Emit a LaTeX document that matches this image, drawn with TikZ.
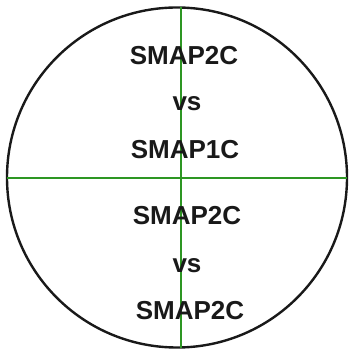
\documentclass[tikz,border=0pt]{standalone}
\usepackage{fontspec}
\setmainfont{Liberation Sans}
\definecolor{lgreen}{RGB}{45,150,35}
\begin{document}
\begin{tikzpicture}[x=1pt,y=1pt,
  lbl/.style={font=\fontsize{26}{29}\selectfont\bfseries, text=black!90, inner sep=0pt},
  gline/.style={draw=lgreen, line width=1.7pt},
  ring/.style={draw=black!90, line width=2.4pt}]
\useasboundingbox (0,0) rectangle (351,356);
\node[ring, circle, minimum size=340pt, inner sep=0pt] (c) at (177,178.5) {};
\coordinate (t) at (181,348.5);
\coordinate (b) at (181,8);
\coordinate (l) at (7,178);
\coordinate (r) at (347,178);
\draw[gline] (t) -- (b);
\draw[gline] (l) -- (r);
\node[lbl] (a1) at (184,300) {SMAP2C};
\node[lbl] (a2) at (187,252) {vs};
\node[lbl] (a3) at (185,206) {SMAP1C};
\node[lbl] (b1) at (187,140) {SMAP2C};
\node[lbl] (b2) at (187,90) {vs};
\node[lbl] (b3) at (190,45) {SMAP2C};
\end{tikzpicture}
\end{document}
